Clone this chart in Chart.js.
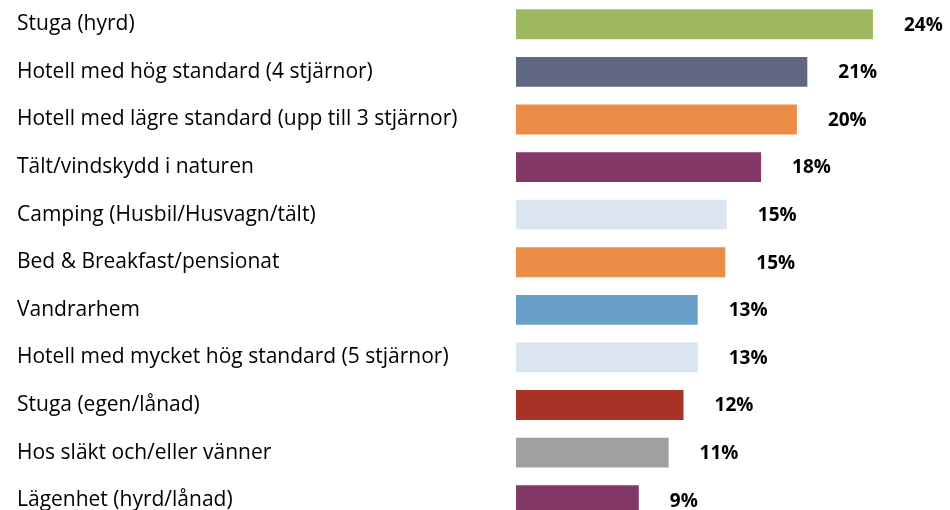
<!DOCTYPE html>
<html>
<head>
<meta charset="utf-8">
<script src="https://cdn.jsdelivr.net/npm/chart.js@4.4.1/dist/chart.umd.min.js"></script>
<style>
  html, body { margin: 0; padding: 0; background: #fff; overflow: hidden; }
  #wrap { width: 950px; height: 524px; }
</style>
</head>
<body>
<div id="wrap"><canvas id="chart" width="950" height="524"></canvas></div>
<script>
const categories = [
  'Stuga (hyrd)',
  'Hotell med hög standard (4 stjärnor)',
  'Hotell med lägre standard (upp till 3 stjärnor)',
  'Tält/vindskydd i naturen',
  'Camping (Husbil/Husvagn/tält)',
  'Bed & Breakfast/pensionat',
  'Vandrarhem',
  'Hotell med mycket hög standard (5 stjärnor)',
  'Stuga (egen/lånad)',
  'Hos släkt och/eller vänner',
  'Lägenhet (hyrd/lånad)'
];
// bar lengths
const values = [24, 19.6, 18.9, 16.5, 14.2, 14.1, 12.25, 12.25, 11.3, 10.3, 8.3];
// printed value labels
const valueLabels = ['24%', '21%', '20%', '18%', '15%', '15%', '13%', '13%', '12%', '11%', '9%'];
const barColors = ['#9FB862', '#5F6880', '#EB8D47', '#833867', '#DAE5EF', '#EB8D47',
                   '#679FC7', '#DAE5EF', '#A93226', '#A0A0A0', '#833867'];

const valueLabelPlugin = {
  id: 'valueLabels',
  afterDatasetsDraw(chart) {
    const ctx = chart.ctx;
    const meta = chart.getDatasetMeta(0);
    ctx.save();
    ctx.font = 'bold 19px "Open Sans"';
    ctx.fillStyle = '#000';
    ctx.textAlign = 'left';
    ctx.textBaseline = 'middle';
    meta.data.forEach((bar, i) => {
      ctx.fillText(valueLabels[i], bar.x + 30, bar.y + 1);
    });
    ctx.restore();
  }
};

new Chart(document.getElementById('chart'), {
  type: 'bar',
  data: {
    labels: categories,
    datasets: [{
      data: values,
      backgroundColor: barColors,
      borderColor: 'rgba(255,255,255,0.6)',
      borderWidth: 1,
      barPercentage: 0.67,
      categoryPercentage: 1
    }]
  },
  options: {
    indexAxis: 'y',
    responsive: false,
    animation: false,
    layout: { padding: { left: 17, right: 0, top: 0.5, bottom: 0 } },
    plugins: { legend: { display: false }, tooltip: { enabled: false } },
    scales: {
      x: {
        min: 0,
        max: 29.1,
        display: false,
        grid: { display: false }
      },
      y: {
        grid: { display: false },
        border: { display: false },
        ticks: {
          crossAlign: 'far',
          color: '#000',
          padding: 0,
          font: { family: 'Open Sans', size: 21 }
        },
        afterFit(scale) {
          scale.width = 499;
          scale.paddingTop = 0;
          scale.paddingBottom = 0;
        }
      }
    }
  },
  plugins: [valueLabelPlugin]
});
</script>
</body>
</html>
